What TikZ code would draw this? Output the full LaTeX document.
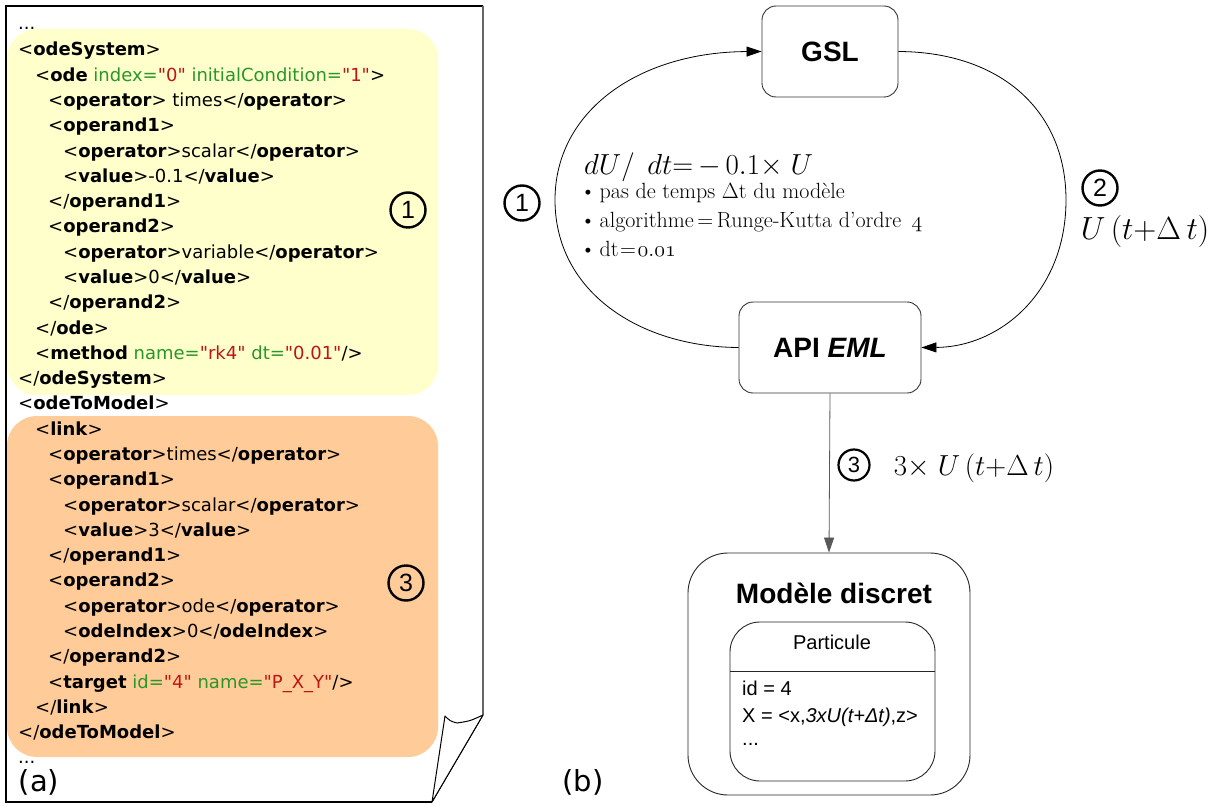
\RequirePackage{fix-cm}
\documentclass[tikz,border=0pt]{standalone}
\usepackage{fontspec}
\usetikzlibrary{arrows.meta}
\newfontfamily\codefont{DejaVu Sans}
\newfontfamily\arialfont{Liberation Sans}
\definecolor{noteyellow}{RGB}{255,255,204}
\definecolor{noteorange}{RGB}{255,204,153}
\definecolor{attrgreen}{RGB}{40,150,40}
\definecolor{valred}{RGB}{190,20,20}
% XML helpers: opening tag, closing tag, attribute="value"
\newcommand\xop[1]{<\textbf{#1}>}
\newcommand\xcl[1]{</\textbf{#1}>}
\newcommand\xat[2]{\textcolor{attrgreen}{#1=}\textcolor{valred}{"#2"}}
\tikzset{
  code/.style={anchor=base west, inner sep=0pt, font=\codefont\fontsize{18}{20}\selectfont},
  circnum/.style={circle, draw, line width=2.4pt, minimum size=35pt, inner sep=0pt,
    font=\arialfont\fontsize{25}{28}\selectfont},
  panel/.style={inner sep=0pt, font=\codefont\fontsize{29}{32}\selectfont},
  procbox/.style={draw=black!80, line width=0.9pt, rounded corners=14pt, minimum height=91pt,
    font=\arialfont\bfseries\fontsize{28}{32}\selectfont},
  flow/.style={-{Triangle[length=15pt,width=10pt]}, line width=0.8pt},
  note/.style={anchor=base west, inner sep=0pt, font=\fontsize{22}{24}\selectfont},
  mathlbl/.style={inner sep=0pt, font=\fontsize{32}{36}\selectfont},
  attrtxt/.style={anchor=base west, inner sep=0pt, font=\arialfont\fontsize{20}{24}\selectfont}
}
\begin{document}
\begin{tikzpicture}[x=1pt,y=-1pt]
\useasboundingbox (0,0) rectangle (1210,805);

% ---------- (a) the XML document ----------
\fill[white] (6,6) -- (483,6) -- (483,715) -- (432,802) -- (6,802) -- cycle;
\fill[noteyellow, rounded corners=30pt] (7,29) rectangle (438,395);
\fill[noteorange, rounded corners=30pt] (7,416) rectangle (438,757);

\node[code] (d0) at (18,30) {...};
\node[code] (c0) at (18,56) {\xop{odeSystem}};
\node[code] (c1) at (35,81.3) {<\textbf{ode} \xat{index}{0} \xat{initialCondition}{1}>};
\node[code] (c2) at (48,106.6) {\xop{operator} times\xcl{operator}};
\node[code] (c3) at (48,131.8) {\xop{operand1}};
\node[code] (c4) at (63,157.1) {\xop{operator}scalar\xcl{operator}};
\node[code] (c5) at (63,182.4) {\xop{value}-0.1\xcl{value}};
\node[code] (c6) at (48,207.7) {\xcl{operand1}};
\node[code] (c7) at (48,233.0) {\xop{operand2}};
\node[code] (c8) at (63,258.2) {\xop{operator}variable\xcl{operator}};
\node[code] (c9) at (63,283.5) {\xop{value}0\xcl{value}};
\node[code] (c10) at (48,308.8) {\xcl{operand2}};
\node[code] (c11) at (35,334.1) {\xcl{ode}};
\node[code] (c12) at (35,359.4) {<\textbf{method} \xat{name}{rk4} \xat{dt}{0.01}/>};
\node[code] (c13) at (18,384.6) {\xcl{odeSystem}};
\node[code] (c14) at (18,409.9) {\xop{odeToModel}};
\node[code] (c15) at (35,435.2) {\xop{link}};
\node[code] (c16) at (48,460.5) {\xop{operator}times\xcl{operator}};
\node[code] (c17) at (48,485.8) {\xop{operand1}};
\node[code] (c18) at (63,511.0) {\xop{operator}scalar\xcl{operator}};
\node[code] (c19) at (63,536.3) {\xop{value}3\xcl{value}};
\node[code] (c20) at (48,561.6) {\xcl{operand1}};
\node[code] (c21) at (48,586.9) {\xop{operand2}};
\node[code] (c22) at (63,612.2) {\xop{operator}ode\xcl{operator}};
\node[code] (c23) at (63,637.4) {\xop{odeIndex}0\xcl{odeIndex}};
\node[code] (c24) at (48,662.7) {\xcl{operand2}};
\node[code] (c25) at (48,688.0) {<\textbf{target} \xat{id}{4} \xat{name}{P\_X\_Y}/>};
\node[code] (c26) at (35,713.3) {\xcl{link}};
\node[code] (c27) at (18,738.6) {\xcl{odeToModel}};
\node[code] (d1) at (18,763) {...};

\node[circnum] (n1a) at (408,210) {1};
\node[circnum] (n3a) at (406,583) {3};
\node[panel] (pa) at (39,782) {(a)};

% page outline with the curled corner
\draw[black, line width=1.2pt] (483,6) -- (6,6) -- (6,802) -- (432,802);
\draw[black!60, line width=2pt] (483,6) -- (483,715);
\draw[black, line width=1pt] (483,715) -- (432,802);
\filldraw[fill=white, draw=black, line width=1pt, line join=round]
  (432,802) -- (445,716) .. controls (450,721) .. (457,723) .. controls (470,721) .. (483,715) -- cycle;

% ---------- (b) the computation loop ----------
\node[procbox, minimum width=136pt] (gsl) at (830,51.5) {GSL};
\node[procbox, minimum width=182pt] (api) at (830,347.5) {API \textit{EML}};

\draw[flow] (api.west) .. controls (640,347) and (555,292) .. (555,200)
                      .. controls (555,110) and (640,52) .. (gsl.west);
\draw[flow] (gsl.east) .. controls (1000,52) and (1066,110) .. (1066,200)
                      .. controls (1066,292) and (1000,347) .. (api.east);

\node[note, font=\fontsize{29}{32}\selectfont] (eq) at (584,175) {$dU/\;\,dt{=}\,{-}\,0.1{\times}\;U$};
\node[note] (b1) at (580,199) {\textbullet\,pas de temps $\Delta$t du modèle};
\node[note] (b2) at (580,228) {\textbullet\,algorithme\,=\,Runge-Kutta d'ordre\ \,$\mathnormal{4}$};
\node[note] (b3) at (580,256) {\textbullet\,dt\kern1.5pt=\kern1.5pt$\mathnormal{0.01}$};

\node[circnum] (n1b) at (522,203) {1};
\node[circnum] (n2b) at (1100,188) {2};
\node[mathlbl] (ub) at (1145,232) {$U\,(t{+}\Delta\,t)$};

% discrete model
\node[draw=black!85, line width=0.9pt, rounded corners=40pt, minimum width=282pt, minimum height=242pt]
  (model) at (829,674) {};
\draw[flow, draw=black!65] (api.south) -- (model.north);
\node[circnum, minimum size=31pt, line width=2.2pt, font=\arialfont\fontsize{22}{24}\selectfont] (n3b) at (854,465) {3};
\node[mathlbl, font=\fontsize{29}{32}\selectfont] (ub3) at (974,468) {$3{\times}\;U\,(t{+}\Delta\,t)$};

\node[inner sep=0pt, font=\arialfont\bfseries\fontsize{28}{32}\selectfont] (mtitle) at (834,593) {Modèle discret};
\draw[black!85, line width=0.9pt, rounded corners=30pt] (730,622) rectangle (935,781);
\draw[black!85, line width=0.9pt] (730,671) -- (935,671);
\node[inner sep=0pt, font=\arialfont\fontsize{20}{24}\selectfont] (pname) at (832,642) {Particule};
\node[attrtxt] (a1) at (742,695) {id = 4};
\node[attrtxt] (a2) at (742,722) {X = <x,\textit{3xU(t+Δt)},z>};
\node[attrtxt] (a3) at (742,745) {...};

\node[panel] (pb) at (583,782) {(b)};
\end{tikzpicture}
\end{document}
